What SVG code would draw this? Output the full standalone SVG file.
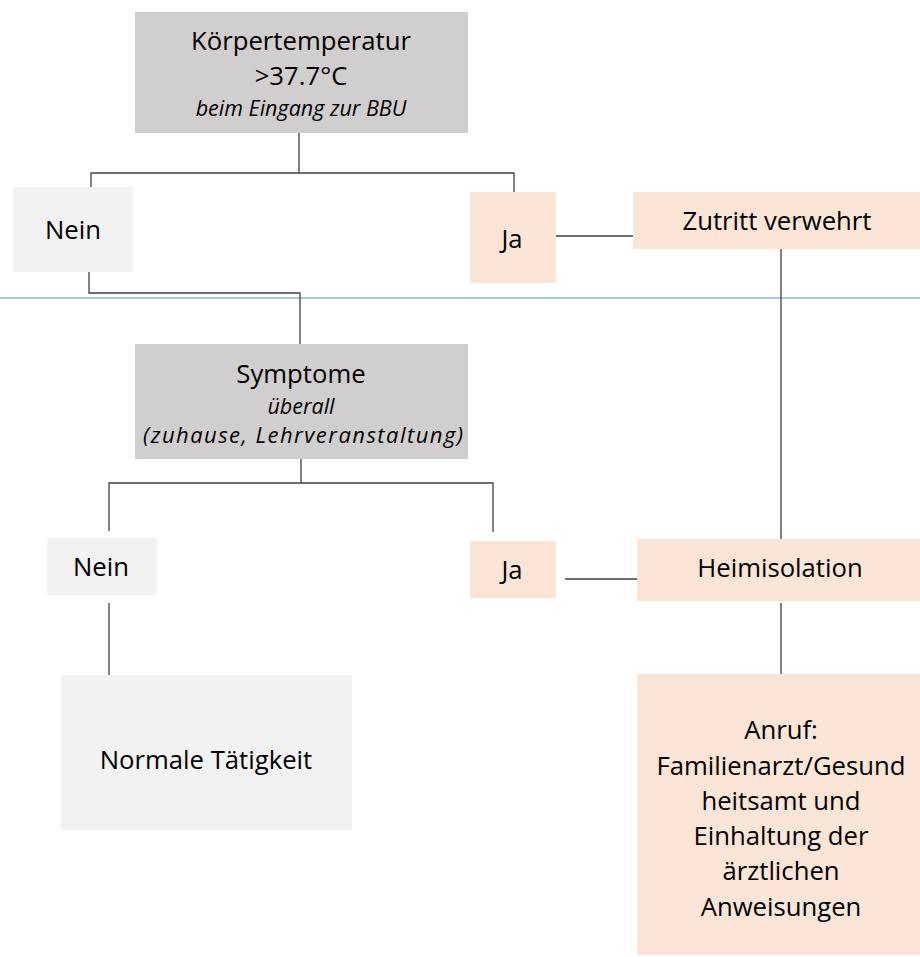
<svg xmlns="http://www.w3.org/2000/svg" width="920" height="957" viewBox="0 0 920 957">
<style>
.t{font-family:"Open Sans","Noto Sans","DejaVu Sans",sans-serif;font-size:25.7px;fill:#000;text-anchor:middle}
.i{font-family:"Open Sans","Noto Sans","DejaVu Sans",sans-serif;font-size:21.5px;font-style:italic;fill:#000;text-anchor:middle}
.dark{fill:#d0cece}
.light{fill:#f2f2f2}
.peach{fill:#fbe5d6}
.c line,.c polyline{stroke:#404040;stroke-width:1.3;fill:none}
</style>
<rect width="920" height="957" fill="#fff"/>
<line x1="0" y1="298" x2="920" y2="298" stroke="#8eb4e3" stroke-width="1.6"/>
<g class="c">
<line x1="299" y1="133" x2="299" y2="173"/>
<polyline points="91,187 91,173 514,173 514,192"/>
<polyline points="89,272 89,293 300,293 300,344"/>
<line x1="556" y1="236" x2="635" y2="236"/>
<line x1="781" y1="243" x2="781" y2="542"/>
<line x1="301" y1="459" x2="301" y2="483"/>
<polyline points="109,531 109,483 493,483 493,532"/>
<line x1="565" y1="579" x2="637" y2="579"/>
<line x1="109" y1="603" x2="109" y2="675"/>
<line x1="781" y1="603" x2="781" y2="674"/>
</g>
<g id="temp">
<rect class="dark" x="135" y="12" width="333" height="121"/>
<text class="t" x="301" y="50">Körpertemperatur</text>
<text class="t" x="301" y="85">&gt;37.7°C</text>
<text class="i" x="301" y="116">beim Eingang zur BBU</text>
</g>
<g id="nein1">
<rect class="light" x="13" y="187" width="120" height="85"/>
<text class="t" x="73" y="239">Nein</text>
</g>
<g id="ja1">
<rect class="peach" x="470" y="192" width="86" height="91"/>
<text class="t" x="512" y="248">Ja</text>
</g>
<g id="zutritt">
<rect class="peach" x="633" y="192" width="287" height="57"/>
<text class="t" x="777" y="230">Zutritt verwehrt</text>
</g>
<g id="symptome">
<rect class="dark" x="135" y="344" width="333" height="115"/>
<text class="t" x="301" y="383">Symptome</text>
<text class="i" x="301" y="413.5">überall</text>
<text class="i" x="303" y="442.5" style="font-size:22px" textLength="320">(zuhause, Lehrveranstaltung)</text>
</g>
<g id="nein2">
<rect class="light" x="47" y="538" width="110" height="57"/>
<text class="t" x="101" y="576">Nein</text>
</g>
<g id="ja2">
<rect class="peach" x="470" y="541" width="86" height="57"/>
<text class="t" x="512" y="579">Ja</text>
</g>
<g id="heim">
<rect class="peach" x="637" y="539" width="283" height="62"/>
<text class="t" x="780" y="577">Heimisolation</text>
</g>
<g id="normal">
<rect class="light" x="61" y="675" width="291" height="155"/>
<text class="t" x="206" y="769">Normale Tätigkeit</text>
</g>
<g id="anruf">
<rect class="peach" x="637" y="674" width="283" height="281"/>
<text class="t" x="781" y="739">Anruf:</text>
<text class="t" x="781" y="775">Familienarzt/Gesund</text>
<text class="t" x="781" y="810">heitsamt und</text>
<text class="t" x="781" y="845">Einhaltung der</text>
<text class="t" x="781" y="880">ärztlichen</text>
<text class="t" x="781" y="916">Anweisungen</text>
</g>
</svg>
